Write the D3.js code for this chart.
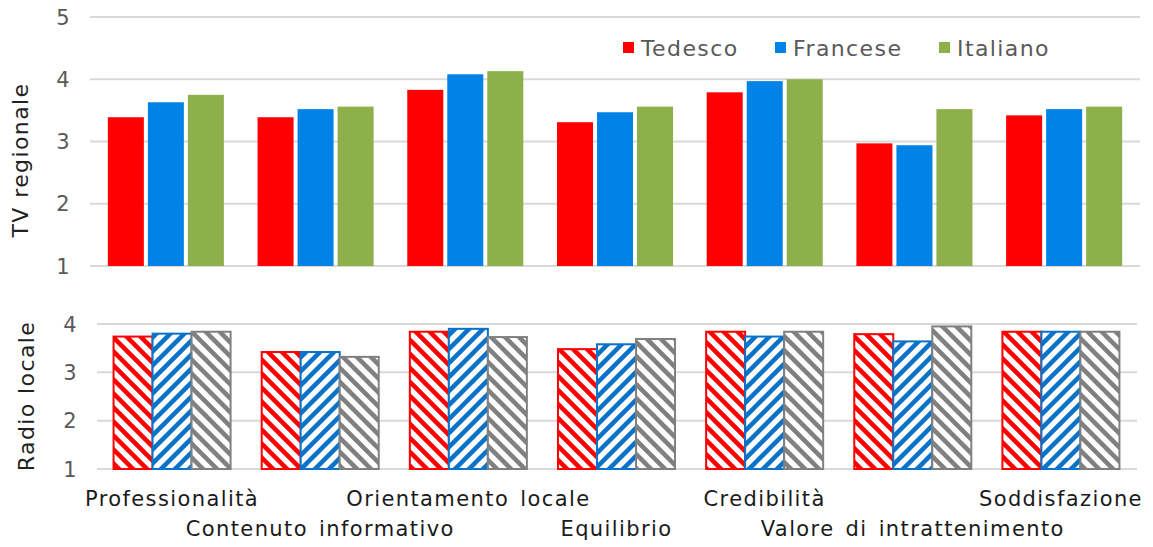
<!DOCTYPE html>
<html>
<head>
<meta charset="utf-8">
<script src="https://cdn.jsdelivr.net/npm/d3@7"></script>
<style>
  body { margin: 0; background: #fff; }
  text { font-family: "DejaVu Sans", "Noto Sans", sans-serif; letter-spacing: 1.4px; }
</style>
</head>
<body>
<svg id="chart" width="1153" height="547"></svg>
<script>
// categories and values
const categories = ["Professionalità", "Contenuto informativo", "Orientamento locale", "Equilibrio", "Credibilità", "Valore di intrattenimento", "Soddisfazione"];
const seriesNames = ["Tedesco", "Francese", "Italiano"];
const tvTedesco  = [3.39, 3.39, 3.83, 3.31, 3.79, 2.97, 3.42];
const tvFrancese = [3.63, 3.52, 4.08, 3.47, 3.97, 2.94, 3.52];
const tvItaliano = [3.75, 3.56, 4.13, 3.56, 4.00, 3.52, 3.56];
const radioTedesco  = [3.74, 3.42, 3.84, 3.48, 3.84, 3.79, 3.84];
const radioFrancese = [3.80, 3.42, 3.90, 3.58, 3.74, 3.64, 3.84];
const radioItaliano = [3.84, 3.32, 3.73, 3.69, 3.84, 3.95, 3.84];
const tvTicks = [1, 2, 3, 4, 5];
const radioTicks = [1, 2, 3, 4];

const tvColors = ["#ff0000", "#0082e6", "#8db04a"];
const radioColors = ["#ff0000", "#0a72c8", "#808080"];

const svg = d3.select("#chart");

// hatch patterns
const defs = svg.append("defs");
const dirs = ["back", "fwd", "back"];
radioColors.forEach((c, i) => {
  const p = defs.append("pattern")
    .attr("id", "hatch" + i)
    .attr("patternUnits", "userSpaceOnUse")
    .attr("width", 14).attr("height", 14);
  p.append("rect").attr("width", 14).attr("height", 14).attr("fill", "#fff");
  const d = dirs[i] === "fwd"
    ? "M-2,2 L2,-2 M0,14 L14,0 M12,16 L16,12"
    : "M-2,12 L2,16 M0,0 L14,14 M12,-2 L16,2";
  p.append("path").attr("d", d).attr("stroke", c).attr("stroke-width", 4.5);
});

function panel(opts) {
  const { yTop, yBottom, xLeft, xRight, gridLeft, gridRight, domainMax, ticks, tickX, data, inner, innerPad, fills, strokes, title, titleX, titleY } = opts;
  const x = d3.scaleBand().domain(categories).range([xLeft, xRight]).paddingInner(inner).paddingOuter(inner / 2);
  const xs = d3.scaleBand().domain(seriesNames).range([0, x.bandwidth()]).padding(innerPad).paddingOuter(0);
  const y = d3.scaleLinear().domain([1, domainMax]).range([yBottom, yTop]);
  const g = svg.append("g");

  g.selectAll("line.grid").data(ticks).enter().append("line")
    .attr("x1", gridLeft).attr("x2", gridRight)
    .attr("y1", d => y(d)).attr("y2", d => y(d))
    .attr("stroke", "#d9d9d9").attr("stroke-width", 2);

  g.selectAll("text.tick").data(ticks).enter().append("text")
    .attr("x", tickX).attr("y", d => y(d))
    .attr("dy", "0.36em")
    .attr("text-anchor", "end")
    .attr("fill", "#595959")
    .style("font-size", "21px")
    .text(d => d);

  seriesNames.forEach((s, si) => {
    g.selectAll("rect.s" + si).data(data[si]).enter().append("rect")
      .attr("x", (d, i) => x(categories[i]) + xs(s))
      .attr("width", xs.bandwidth())
      .attr("y", d => y(d))
      .attr("height", d => y(1) - y(d))
      .attr("fill", fills[si])
      .attr("stroke", strokes[si])
      .attr("stroke-width", strokes[si] === "none" ? 0 : 2);
  });

  svg.append("text")
    .attr("transform", `translate(${titleX},${titleY}) rotate(-90)`)
    .attr("text-anchor", "middle")
    .attr("fill", "#222")
    .style("font-size", "22px")
    .text(title);
  return x;
}

panel({
  yTop: 17, yBottom: 266, xLeft: 91, xRight: 1139, gridLeft: 90, gridRight: 1140,
  domainMax: 5, ticks: tvTicks, tickX: 71,
  data: [tvTedesco, tvFrancese, tvItaliano], inner: 0.225, innerPad: 0.1,
  fills: tvColors, strokes: ["none", "none", "none"],
  title: "TV regionale", titleX: 28, titleY: 160
});

const xb = panel({
  yTop: 324, yBottom: 469, xLeft: 98, xRight: 1135, gridLeft: 97, gridRight: 1137,
  domainMax: 4, ticks: radioTicks, tickX: 78,
  data: [radioTedesco, radioFrancese, radioItaliano], inner: 0.21, innerPad: 0,
  fills: [0, 1, 2].map(i => `url(#hatch${i})`), strokes: radioColors,
  title: "Radio locale", titleX: 34, titleY: 396
});

// category labels, staggered in two rows
svg.selectAll("text.cat").data(categories).enter().append("text")
  .attr("x", d => xb(d) + xb.bandwidth() / 2)
  .attr("y", (d, i) => i % 2 === 0 ? 506 : 536)
  .attr("text-anchor", "middle")
  .attr("fill", "#1a1a1a")
  .style("font-size", "21px")
  .style("word-spacing", "3px")
  .text(d => d);

// legend
const legendX = [623, 775, 939];
seriesNames.forEach((s, i) => {
  svg.append("rect").attr("x", legendX[i]).attr("y", 42).attr("width", 11).attr("height", 11).attr("fill", tvColors[i]);
  svg.append("text").attr("x", legendX[i] + 18).attr("y", 48).attr("dy", "0.36em")
    .attr("fill", "#595959").style("font-size", "22px").text(s);
});
</script>
</body>
</html>
